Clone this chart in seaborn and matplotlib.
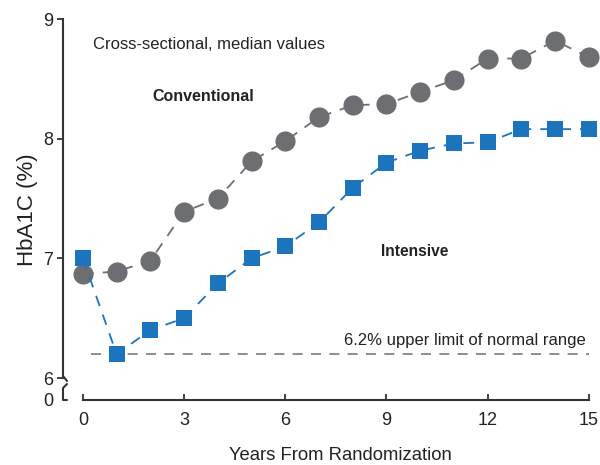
import matplotlib
matplotlib.use('Agg')
import matplotlib.pyplot as plt
import seaborn as sns
import pandas as pd
from matplotlib.lines import Line2D

# data
years = list(range(16))
conventional = [6.87, 6.89, 6.98, 7.39, 7.50, 7.81, 7.98, 8.18, 8.28, 8.29,
                8.39, 8.49, 8.67, 8.67, 8.82, 8.68]
intensive = [7.00, 6.20, 6.40, 6.50, 6.79, 7.00, 7.10, 7.30, 7.59, 7.80,
             7.90, 7.96, 7.97, 8.08, 8.08, 8.08]
normal_limit = 6.2
x_ticks = [0, 3, 6, 9, 12, 15]
y_ticks = [6, 7, 8, 9]

gray = '#6d6e71'
blue = '#1c75bc'
axis_col = '#333333'

sns.set_style('ticks')
plt.rcParams['font.family'] = ['Liberation Sans', 'DejaVu Sans']

df = pd.DataFrame({'year': years, 'conv': conventional, 'int': intensive})

fig = plt.figure(figsize=(6, 4.65), dpi=100)
ax = fig.add_axes([0.105, 0.14, 0.882, 0.819])

y_bottom = 5.817  # where the broken axis shows "0"
ax.set_xlim(-0.59, 15.1)
ax.set_ylim(y_bottom, 9)

# reference line
ax.plot([0.25, 15], [normal_limit, normal_limit], color='#7a7a7a', lw=1.2,
        linestyle=(0, (6, 5)), zorder=1)

sns.lineplot(data=df, x='year', y='conv', ax=ax, color=gray, marker='o',
             markersize=14.5, markeredgewidth=0, linestyle=(0, (6, 5)),
             lw=1.3, clip_on=False, zorder=3)
sns.lineplot(data=df, x='year', y='int', ax=ax, color=blue, marker='s',
             markersize=11, markeredgewidth=0, linestyle=(0, (6, 5)),
             lw=1.3, clip_on=False, zorder=4)

ax.text(0.3, 8.79, 'Cross-sectional, median values', fontsize=12,
        color='#222222', va='center', ha='left')
ax.text(3.56, 8.35, 'Conventional', fontsize=11.5, fontweight='bold',
        color='#222222', va='center', ha='center')
ax.text(9.84, 7.06, 'Intensive', fontsize=11.2, fontweight='bold',
        color='#222222', va='center', ha='center')
ax.text(14.91, 6.31, '6.2% upper limit of normal range', fontsize=12,
        color='#222222', va='center', ha='right')

# axes styling
for side in ['top', 'right']:
    ax.spines[side].set_visible(False)
ax.spines['left'].set_bounds(6, 9)
ax.spines['bottom'].set_bounds(0, 15)
for side in ['left', 'bottom']:
    ax.spines[side].set_color(axis_col)
    ax.spines[side].set_linewidth(1.5)

ax.set_xticks(x_ticks)
ax.set_yticks([y_bottom] + y_ticks)
ax.set_yticklabels(['0'] + [str(v) for v in y_ticks])
ax.tick_params(axis='x', direction='in', length=4, width=1.3, color=axis_col,
               labelsize=13, labelcolor='#222222', pad=9)
ax.tick_params(axis='y', direction='out', length=4, width=1.3, color=axis_col,
               labelsize=13, labelcolor='#222222', pad=3)
ax.yaxis.get_major_ticks()[0].tick1line.set_visible(False)

ax.set_xlabel('Years From Randomization', fontsize=13.3, color='#222222')
ax.xaxis.set_label_coords(0.525, -0.124)
ax.set_ylabel('HbA1C (%)', fontsize=16, color='#222222', labelpad=4)

# axis break marks (pixel positions in the figure)
W, H = 600, 465
def px(xs, ys):
    return [x / W for x in xs], [1 - y / H for y in ys]
bx, by = px([63, 67], [376, 381])
fig.add_artist(Line2D(bx, by, color=axis_col, lw=1.5))
bx, by = px([67, 63, 63, 67], [384, 388, 400, 400])
fig.add_artist(Line2D(bx, by, color=axis_col, lw=1.5))

fig.savefig('out.png', dpi=100)
